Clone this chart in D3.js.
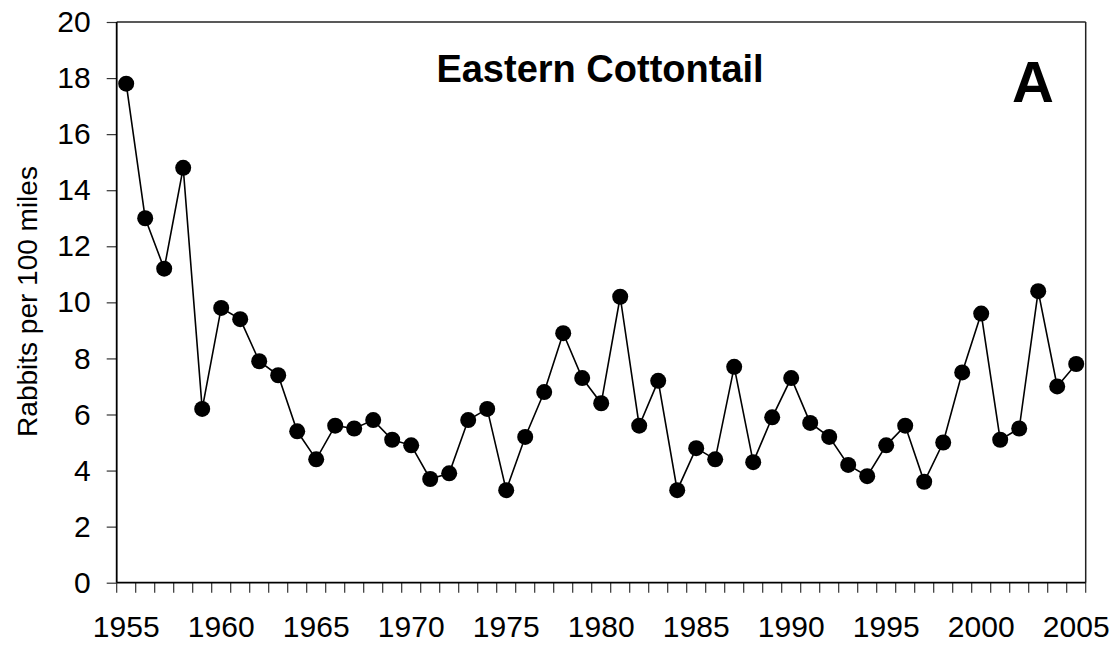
<!DOCTYPE html>
<html>
<head>
<meta charset="utf-8">
<script src="https://cdn.jsdelivr.net/npm/d3@7"></script>
<style>
  html, body { margin: 0; padding: 0; background: #fff; }
  svg { display: block; }
  text { font-family: "Liberation Sans", Arial, sans-serif; fill: #000; }
</style>
</head>
<body>
<svg id="chart" width="1117" height="645"></svg>
<script>
const years = [1955,1956,1957,1958,1959,1960,1961,1962,1963,1964,1965,1966,1967,1968,1969,1970,
  1971,1972,1973,1974,1975,1976,1977,1978,1979,1980,1981,1982,1983,1984,1985,1986,1987,1988,
  1989,1990,1991,1992,1993,1994,1995,1996,1997,1998,1999,2000,2001,2002,2003,2004,2005];
const rabbits = [17.8,13.0,11.2,14.8,6.2,9.8,9.4,7.9,7.4,5.4,4.4,5.6,5.5,5.8,5.1,4.9,
  3.7,3.9,5.8,6.2,3.3,5.2,6.8,8.9,7.3,6.4,10.2,5.6,7.2,3.3,4.8,4.4,7.7,4.3,
  5.9,7.3,5.7,5.2,4.2,3.8,4.9,5.6,3.6,5.0,7.5,9.6,5.1,5.5,10.4,7.0,7.8];
const yTicks = [0,2,4,6,8,10,12,14,16,18,20];
const xLabelYears = [1955,1960,1965,1970,1975,1980,1985,1990,1995,2000,2005];
const title = "Eastern Cottontail";
const panel = "A";
const yTitle = "Rabbits per 100 miles";

const L = 116.7, R = 1085.7, T = 22, B = 582.7;
const svg = d3.select("#chart");

const x = d3.scaleBand().domain(years).range([L, R]).padding(0);
const cx = d => x(d) + x.bandwidth() / 2;
const y = d3.scaleLinear().domain([0, 20]).range([B, T]);

// frame (top & right)
svg.append("line").attr("x1", L).attr("x2", R).attr("y1", T).attr("y2", T)
  .attr("stroke", "#222").attr("stroke-width", 1.5);
svg.append("line").attr("x1", R).attr("x2", R).attr("y1", T).attr("y2", B)
  .attr("stroke", "#222").attr("stroke-width", 1.5);

// x tick marks at category boundaries
const xTickAxis = d3.axisBottom(x).tickSize(10).tickFormat("");
const gxt = svg.append("g").attr("transform", `translate(0,${B})`).call(xTickAxis);
gxt.selectAll(".tick").attr("transform", d => `translate(${x(d)},0)`);
gxt.append("line").attr("x1", R).attr("x2", R).attr("y1", 0).attr("y2", 10)
  .attr("stroke", "#333").attr("stroke-width", 1.2);
gxt.selectAll(".tick line").attr("stroke", "#333").attr("stroke-width", 1.2);
gxt.select(".domain").remove();

// x labels
const xLabelAxis = d3.axisBottom(x).tickValues(xLabelYears).tickSize(0).tickPadding(33);
const gxl = svg.append("g").attr("transform", `translate(0,${B})`).call(xLabelAxis);
gxl.select(".domain").remove();
gxl.selectAll("text").style("font-size", "30px").attr("font-family", null);

// y axis
const yAxis = d3.axisLeft(y).tickValues(yTicks).tickSize(10).tickPadding(16);
const gy = svg.append("g").attr("transform", `translate(${L},0)`).call(yAxis);
gy.select(".domain").remove();
gy.selectAll(".tick line").attr("stroke", "#333").attr("stroke-width", 1.2);
gy.selectAll("text").style("font-size", "30px").attr("font-family", null);

// axis lines
svg.append("line").attr("x1", L).attr("x2", L).attr("y1", T).attr("y2", B)
  .attr("stroke", "#000").attr("stroke-width", 1.8);
svg.append("line").attr("x1", L).attr("x2", R).attr("y1", B).attr("y2", B)
  .attr("stroke", "#000").attr("stroke-width", 1.8);

// line & points
const pts = years.map((yr, i) => ({ yr, v: rabbits[i] }));
svg.append("path").datum(pts)
  .attr("fill", "none").attr("stroke", "#000").attr("stroke-width", 1.6)
  .attr("d", d3.line().x(d => cx(d.yr)).y(d => y(d.v)));
svg.append("g").selectAll("circle").data(pts).join("circle")
  .attr("cx", d => cx(d.yr)).attr("cy", d => y(d.v)).attr("r", 8).attr("fill", "#000");

// titles
svg.append("text").attr("x", 600).attr("y", 81.5).attr("text-anchor", "middle")
  .style("font-size", "38px").style("font-weight", "bold").text(title);
svg.append("text").attr("x", 1033).attr("y", 101.5).attr("text-anchor", "middle")
  .style("font-size", "58px").style("font-weight", "bold").text(panel);
svg.append("text").attr("transform", "translate(36.5,301.5) rotate(-90)")
  .attr("text-anchor", "middle").style("font-size", "28px").text(yTitle);
</script>
</body>
</html>
